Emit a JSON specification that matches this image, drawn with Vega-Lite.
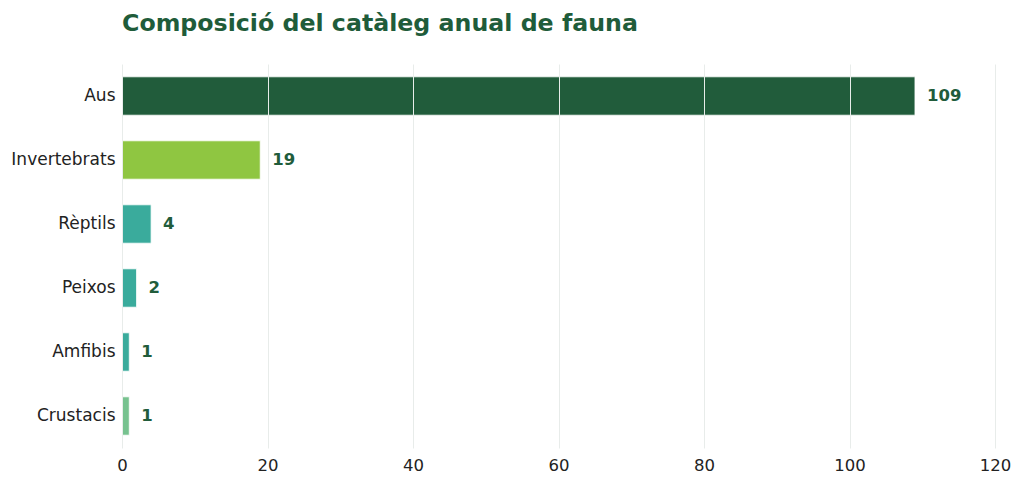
{
  "$schema": "https://vega.github.io/schema/vega-lite/v6.json",
  "width": 873,
  "height": 384,
  "autosize": {"type": "none"},
  "padding": {"left": 122, "top": 64, "right": 29, "bottom": 40},
  "background": "white",
  "title": {
    "text": "Composició del catàleg anual de fauna",
    "anchor": "start",
    "frame": "group",
    "font": "DejaVu Sans",
    "fontSize": 23.7,
    "fontWeight": "bold",
    "color": "#1f5c3a",
    "offset": 28
  },
  "data": {
    "values": [
      {"grup": "Aus", "n": 109, "tipus": "aus"},
      {"grup": "Invertebrats", "n": 19, "tipus": "inv"},
      {"grup": "Rèptils", "n": 4, "tipus": "altres"},
      {"grup": "Peixos", "n": 2, "tipus": "altres"},
      {"grup": "Amfibis", "n": 1, "tipus": "altres"},
      {"grup": "Crustacis", "n": 1, "tipus": "crus"}
    ]
  },
  "encoding": {
    "y": {
      "field": "grup",
      "type": "nominal",
      "sort": null,
      "scale": {"paddingInner": 0.4, "paddingOuter": 0.2},
      "axis": {
        "title": null,
        "ticks": false,
        "domain": false,
        "labelPadding": 7,
        "labelFontSize": 17,
        "labelColor": "#222222",
        "labelFont": "DejaVu Sans"
      }
    },
    "x": {
      "field": "n",
      "type": "quantitative",
      "scale": {"domain": [0, 120], "nice": false},
      "axis": {
        "title": null,
        "values": [0, 20, 40, 60, 80, 100, 120],
        "ticks": false,
        "domain": false,
        "grid": true,
        "gridColor": "#e8ecea",
        "gridWidth": 1,
        "zindex": 1,
        "labelFlush": false,
        "labelPadding": 9,
        "labelFontSize": 16.5,
        "labelColor": "#222222",
        "labelFont": "DejaVu Sans"
      }
    }
  },
  "layer": [
    {
      "mark": {"type": "bar", "stroke": "white", "strokeWidth": 0.8},
      "encoding": {
        "color": {
          "field": "tipus",
          "type": "nominal",
          "scale": {
            "domain": ["aus", "inv", "altres", "crus"],
            "range": ["#215c3b", "#8fc641", "#3aab9c", "#77c28f"]
          },
          "legend": null
        }
      }
    },
    {
      "mark": {
        "type": "text",
        "align": "left",
        "baseline": "middle",
        "dx": 12,
        "font": "DejaVu Sans",
        "fontSize": 16.5,
        "fontWeight": "bold",
        "color": "#215c3b"
      },
      "encoding": {"text": {"field": "n", "type": "quantitative"}}
    }
  ],
  "config": {"view": {"stroke": null}}
}
